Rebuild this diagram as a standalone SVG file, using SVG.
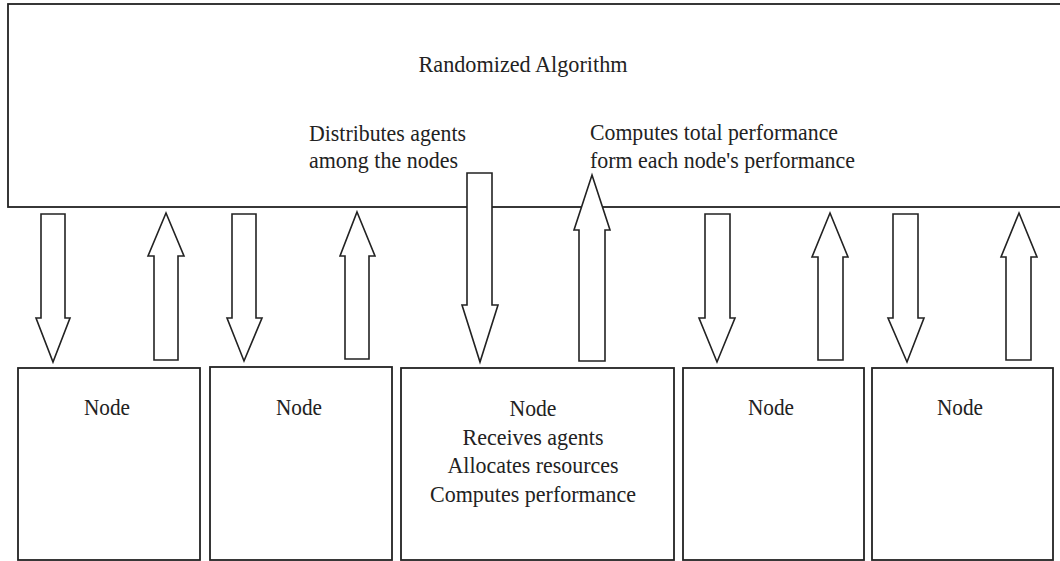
<svg xmlns="http://www.w3.org/2000/svg" width="1060" height="561" viewBox="0 0 1060 561">
<style>
.box{fill:#fff;stroke:#222;stroke-width:1.8}
.arr{fill:#fff;stroke:#222;stroke-width:1.6;stroke-linejoin:miter}
text{font-family:"Liberation Serif","Times New Roman",serif;font-size:24px;fill:#222}
.c{text-anchor:middle}
</style>
<rect width="1060" height="561" fill="#fff"/>
<g id="algorithm">
<rect class="box" x="8" y="4" width="1060" height="203"/>
<text class="c" x="523" y="72" textLength="209" lengthAdjust="spacingAndGlyphs">Randomized Algorithm</text>
<text x="309" y="141" textLength="157" lengthAdjust="spacingAndGlyphs">Distributes agents</text>
<text x="309" y="168" textLength="149" lengthAdjust="spacingAndGlyphs">among the nodes</text>
<text x="590" y="140" textLength="248" lengthAdjust="spacingAndGlyphs">Computes total performance</text>
<text x="590" y="168" textLength="265" lengthAdjust="spacingAndGlyphs">form each node's performance</text>
</g>
<g id="connectors">
<polygon class="arr" points="41,214 65,214 65,318 70,318 53,362 36,318 41,318"/>
<polygon class="arr" points="166,213 184,256 178,256 178,360 154,360 154,256 148,256"/>
<polygon class="arr" points="232,214 256,214 256,318 262,318 244,361 227,318 232,318"/>
<polygon class="arr" points="357,212 375,256 369,256 369,359 345,359 345,256 340,256"/>
<polygon class="arr" points="467,173 492,173 492,305 498,305 480,362 462,305 467,305"/>
<polygon class="arr" points="592,175 610,230 605,230 605,361 579,361 579,230 574,230"/>
<polygon class="arr" points="705,214 730,214 730,318 735,318 717,362 699,318 705,318"/>
<polygon class="arr" points="830,213 848,257 843,257 843,360 818,360 818,257 812,257"/>
<polygon class="arr" points="893,214 918,214 918,318 924,318 907,362 888,318 893,318"/>
<polygon class="arr" points="1019,213 1037,257 1031,257 1031,360 1006,360 1006,257 1001,257"/>
</g>
<g id="node1">
<rect class="box" x="18" y="368" width="182" height="192"/>
<text class="c" x="107" y="415" textLength="46" lengthAdjust="spacingAndGlyphs">Node</text>
</g>
<g id="node2">
<rect class="box" x="210" y="367" width="182" height="193"/>
<text class="c" x="299" y="415" textLength="46" lengthAdjust="spacingAndGlyphs">Node</text>
</g>
<g id="node3">
<rect class="box" x="401" y="368" width="273" height="192"/>
<text class="c" x="533" y="416" textLength="47" lengthAdjust="spacingAndGlyphs">Node</text>
<text class="c" x="533" y="445" textLength="141" lengthAdjust="spacingAndGlyphs">Receives agents</text>
<text class="c" x="533" y="473" textLength="171" lengthAdjust="spacingAndGlyphs">Allocates resources</text>
<text class="c" x="533" y="502" textLength="206" lengthAdjust="spacingAndGlyphs">Computes performance</text>
</g>
<g id="node4">
<rect class="box" x="683" y="368" width="181" height="192"/>
<text class="c" x="771" y="415" textLength="46" lengthAdjust="spacingAndGlyphs">Node</text>
</g>
<g id="node5">
<rect class="box" x="872" y="368" width="181" height="192"/>
<text class="c" x="960" y="415" textLength="46" lengthAdjust="spacingAndGlyphs">Node</text>
</g>
</svg>
